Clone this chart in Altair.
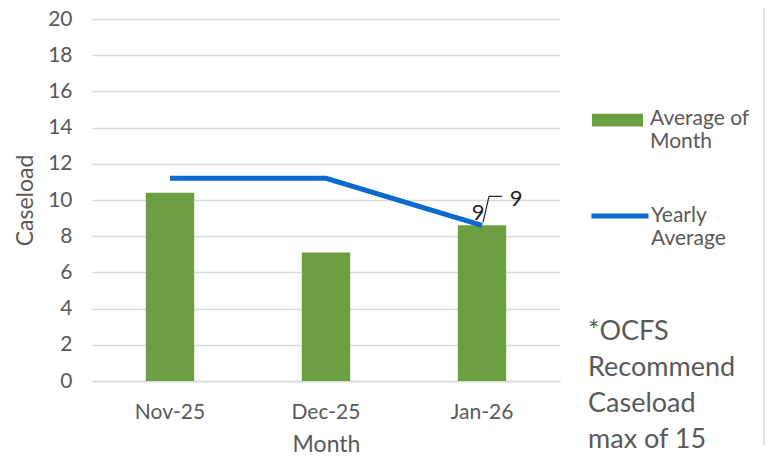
import altair as alt
import pandas as pd

months = ["Nov-25", "Dec-25", "Jan-26"]
month_avg = [10.4, 7.1, 8.6]
yearly_avg = [11.2, 11.2, 8.6]
labeled_months = ["Jan-26"]
y_ticks = list(range(0, 21, 2))
bar_name = "Average of|Month"
line_name = "Yearly|Average"
note_lines = ["*OCFS", "Recommend", "Caseload", "max of 15"]

FONT = "Lato"
TXT = "#595959"
GRID = "#d9d9d9"
GREEN = "#6b9f41"
BLUE = "#0a6acd"

df = pd.DataFrame({
    "Month": months,
    "MonthAvg": month_avg,
    "YearlyAvg": yearly_avg,
    "BarSeries": [bar_name] * len(months),
    "LineSeries": [line_name] * len(months),
})

base = alt.Chart(df)

x_axis = alt.Axis(
    title="Month", labelAngle=0, ticks=False, domainColor=GRID, domainWidth=1.5,
    labelPadding=20, titlePadding=11, labelFontSize=21, titleFontSize=23,
    labelColor=TXT, titleColor=TXT, titleFontWeight="normal", grid=False,
)
x_scale = alt.Scale(paddingInner=0.69, paddingOuter=0.345)
y_scale = alt.Scale(domain=[0, 20])
y_axis = alt.Axis(
    title="Caseload", values=y_ticks, ticks=False, domain=False, gridColor=GRID,
    gridWidth=1.5, labelFontSize=21, labelColor=TXT, labelPadding=20, labelOverlap=False,
    titleFontSize=23, titleColor=TXT, titleFontWeight="normal", titlePadding=10,
)


def X():
    return alt.X("Month:N", sort=months, scale=x_scale, axis=x_axis)


def Y(field):
    return alt.Y(field, scale=y_scale, axis=y_axis)


bars = base.mark_bar().encode(
    x=X(),
    y=Y("MonthAvg:Q"),
    fill=alt.Fill(
        "BarSeries:N",
        scale=alt.Scale(domain=[bar_name], range=[GREEN]),
        legend=alt.Legend(
            title=None, orient="none", legendX=500, legendY=74, padding=0,
            symbolType="M-1,-0.19L1,-0.19L1,0.31L-1,0.31Z", symbolSize=2601,
            symbolStrokeWidth=0, labelOffset=7, labelFontSize=21, labelColor=TXT,
            labelFont=FONT, labelExpr="split(datum.label, '|')", labelLimit=200,
        ),
    ),
)

line = base.mark_line(strokeWidth=5).encode(
    x=X(),
    y=Y("YearlyAvg:Q"),
    stroke=alt.Stroke(
        "LineSeries:N",
        scale=alt.Scale(domain=[line_name], range=[BLUE]),
        legend=alt.Legend(
            title=None, orient="none", legendX=497, legendY=166, padding=0,
            symbolType="M-1,0L1,0", symbolSize=3249, symbolStrokeWidth=5,
            labelOffset=0, labelFontSize=21, labelColor=TXT, labelFont=FONT,
            labelExpr="split(datum.label, '|')", labelLimit=200,
        ),
    ),
)

lab = base.transform_filter(alt.FieldOneOfPredicate(field="Month", oneOf=labeled_months))

bar_label = lab.mark_text(fontSize=22, color="#222222", font=FONT, dx=-4, dy=-12).encode(
    x=X(), y=Y("MonthAvg:Q"),
    text=alt.Text("MonthAvg:Q", format=".0f"),
)
line_label = lab.mark_text(fontSize=22, color="#222222", font=FONT, dx=34, dy=-26).encode(
    x=X(), y=Y("YearlyAvg:Q"),
    text=alt.Text("YearlyAvg:Q", format=".0f"),
)
leader1 = lab.mark_rule(color="#222222", strokeWidth=1.2, xOffset=1, yOffset=-3, x2Offset=7, y2Offset=-29).encode(
    x=X(), x2=alt.X2("Month"),
    y=Y("YearlyAvg:Q"), y2=alt.Y2("YearlyAvg"),
)
leader2 = lab.mark_rule(color="#222222", strokeWidth=1.2, xOffset=7, yOffset=-29, x2Offset=20, y2Offset=-29).encode(
    x=X(), x2=alt.X2("Month"),
    y=Y("YearlyAvg:Q"), y2=alt.Y2("YearlyAvg"),
)

note = alt.Chart(pd.DataFrame({"t": [note_lines]})).mark_text(
    align="left", baseline="middle", fontSize=27, lineHeight=36, color=TXT, font=FONT,
).encode(x=alt.value(496), y=alt.value(313), text="t")

border = alt.Chart(pd.DataFrame({"a": [0]})).mark_rule(color="#d9d9d9", strokeWidth=1.5).encode(
    x=alt.value(672), y=alt.value(-19), y2=alt.value(426),
)

chart = alt.layer(bars, line, leader1, leader2, bar_label, line_label, note, border).properties(
    width=468, height=362,
    padding={"left": 84, "top": 11, "right": 206, "bottom": 72},
    autosize="none",
).configure(font=FONT).configure_view(stroke=None).configure_axis(labelFont=FONT, titleFont=FONT)

chart.save("out.html", embed_options={"renderer": "svg", "actions": False})
